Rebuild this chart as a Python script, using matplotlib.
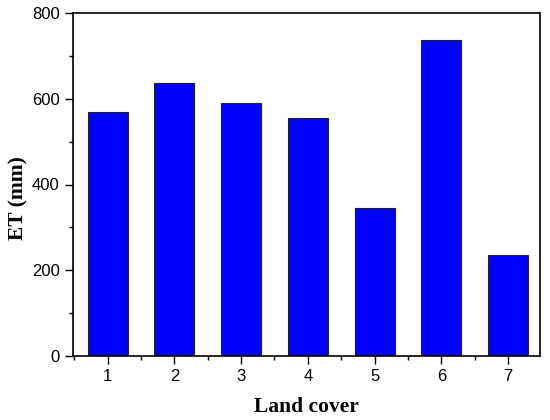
import numpy as np
import matplotlib.pyplot as plt
from matplotlib.ticker import MultipleLocator

land_cover = [1, 2, 3, 4, 5, 6, 7]
et_mm = [570, 637, 591, 555, 346, 738, 235]

fig = plt.figure(figsize=(5.5, 4.2), dpi=100)
ax = fig.add_axes([73 / 550, 1 - 356 / 420, (540 - 73) / 550, (356 - 13) / 420])

ax.bar(land_cover, et_mm, width=0.6, color='#0000FF', edgecolor='#222222', linewidth=0.8)

ax.set_xlim(0.48, 7.48)
ax.set_ylim(0, 800)
ax.xaxis.set_major_locator(MultipleLocator(1))
ax.xaxis.set_minor_locator(MultipleLocator(0.5))
ax.yaxis.set_major_locator(MultipleLocator(200))
ax.yaxis.set_minor_locator(MultipleLocator(100))
ax.tick_params(which='major', direction='out', length=6, width=1, labelsize=12)
ax.tick_params(which='minor', direction='out', length=3, width=1)
for lab in ax.get_xticklabels() + ax.get_yticklabels():
    lab.set_fontfamily('Liberation Sans')
for s in ax.spines.values():
    s.set_linewidth(1.2)

ax.set_xlabel('Land cover', fontfamily='Liberation Serif', fontweight='bold', fontsize=15.5, labelpad=9)
ax.set_ylabel('ET (mm)', fontfamily='Liberation Serif', fontweight='bold', fontsize=15.5,
              va='center')
ax.yaxis.set_label_coords(-0.117, 0.46)

fig.savefig('out.png', dpi=100)
